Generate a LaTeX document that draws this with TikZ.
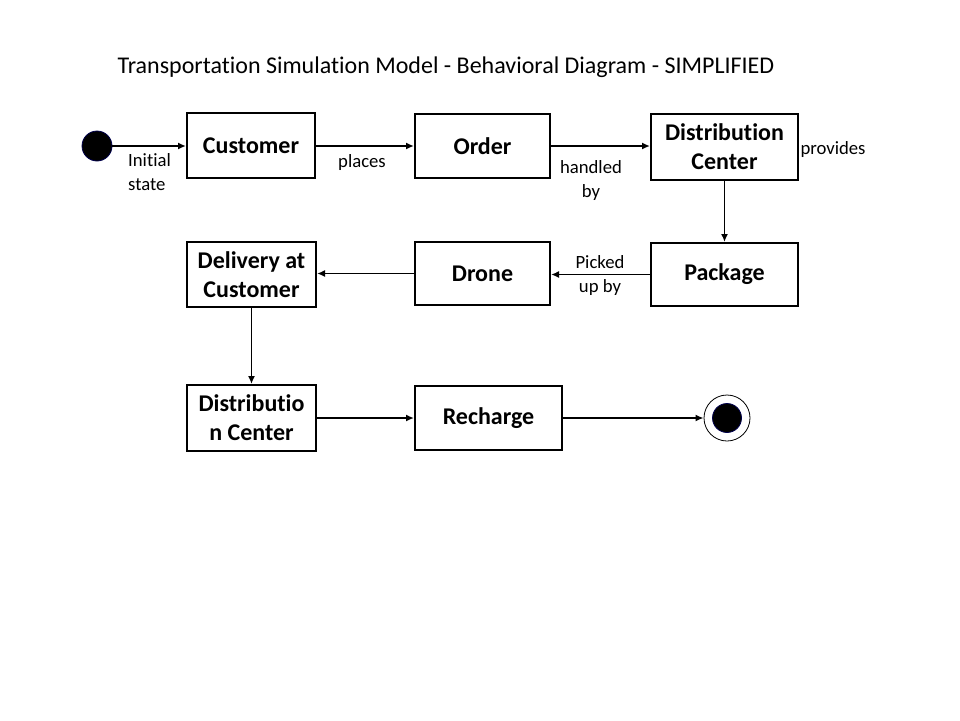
\documentclass[tikz,border=0pt]{standalone}
\usepackage{fontspec}
\setmainfont[Ligatures=NoCommon]{Carlito}
\usetikzlibrary{arrows.meta}
\tikzset{
  statebox/.style={draw,line width=2pt,fill=white,align=center,inner sep=0pt,
    font=\fontsize{24}{29}\selectfont\bfseries},
  lbl/.style={align=center,inner sep=0pt,font=\fontsize{18.7}{24}\selectfont},
  flow/.style={-{Latex[length=8pt,width=7pt]},line width=1.8pt},
}
\begin{document}
\begin{tikzpicture}[x=1pt,y=-1pt]
\useasboundingbox (0,0) rectangle (960,720);
\node[font=\fontsize{24}{29}\selectfont] (title) at (446,67) {Transportation Simulation Model - Behavioral Diagram - SIMPLIFIED};
% states
\foreach \n/\x/\y/\w/\h/\t in {cust/251/145.5/128/65/Customer, order/482.5/146/135/64/Order,
  dc/724.5/147/147/66/{Distribution\\Center}, pkg/724.5/274.5/147/63/Package,
  drone/482.5/273.5/135/63/Drone, deliv/251.5/274.5/129/65/{Delivery at\\Customer},
  dctwo/251.5/418/129/66/{Distributio\\n Center}, rech/488.5/418/147/64/Recharge}
  \node[statebox,minimum width=\w pt,minimum height=\h pt] (\n) at (\x,\y) {\t};
\node[circle,fill=black,draw=black!70!blue,line width=0.8pt,minimum size=30pt,inner sep=0pt] (init) at (97,146) {};
\node[circle,draw,line width=0.8pt,minimum size=46pt,inner sep=0pt] (fin) at (727,418) {};
\node[circle,fill=black,draw=black!70!blue,line width=0.8pt,minimum size=29pt,inner sep=0pt] (fincore) at (727,418) {};
% transitions
\draw[flow] (init) -- (init -| cust.west);
\draw[flow] (cust.east |- order) -- (order.west);
\draw[flow] (order.east) -- (order -| dc.west);
\draw[flow] (dc) -- (pkg);
\draw[flow] (pkg.west) -- (pkg -| drone.east);
\draw[flow] (drone.west) -- (drone -| deliv.east);
\draw[flow] (deliv) -- (dctwo);
\draw[flow] (dctwo) -- (rech);
\draw[flow] (rech) -- (fin);
% labels
\node[lbl,align=left,anchor=west] (linit) at (128,172) {Initial\\state};
\node[lbl] (lplaces) at (362,163) {places};
\node[lbl] (lhandled) at (591,181) {handled\\by};
\node[lbl] (lprov) at (833,150) {provides};
\node[lbl] (lpicked) at (600,276) {Picked\\up by};
\end{tikzpicture}
\end{document}
